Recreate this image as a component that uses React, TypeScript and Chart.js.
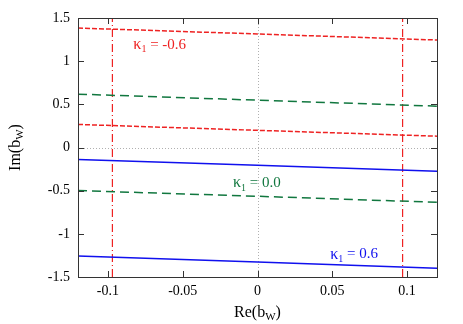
import React, { useEffect, useRef } from "react";
import { Chart, registerables } from "chart.js";

Chart.register(...registerables);

const xTicks = [-0.1, -0.05, 0, 0.05, 0.1];
const yTicks = [-1.5, -1, -0.5, 0, 0.5, 1, 1.5];
const xs = [-0.12, 0, 0.12];
const redTop = [1.384, 1.315, 1.245];
const redBottom = [0.267, 0.199, 0.131];
const greenTop = [0.618, 0.548, 0.479];
const greenBottom = [-0.499, -0.565, -0.635];
const blueTop = [-0.139, -0.207, -0.276];
const blueBottom = [-1.257, -1.327, -1.4];
const vLineX = [-0.097, 0.097];
const labels = [
  { text: "-0.6", x: -0.083, y: 1.19, color: "#ee2222" },
  { text: "0.0", x: -0.0164, y: -0.41, color: "#11773f" },
  { text: "0.6", x: 0.0486, y: -1.24, color: "#1010ee" },
];

const RED = "#ee2222";
const GREEN = "#11773f";
const BLUE = "#1010ee";
const FONT = "'Liberation Serif', 'DejaVu Serif', serif";

function pts(y: number[]) {
  return xs.map((x, i) => ({ x, y: y[i] }));
}

const deco = {
  id: "deco",
  beforeDatasetsDraw(chart: any) {
    const { ctx, chartArea: a, scales } = chart;
    const x0 = scales.x.getPixelForValue(0);
    const y0 = scales.y.getPixelForValue(0);
    ctx.save();
    ctx.strokeStyle = "#b0b0b0";
    ctx.lineWidth = 1;
    ctx.setLineDash([1, 2]);
    ctx.beginPath();
    ctx.moveTo(Math.round(x0) + 0.5, a.top);
    ctx.lineTo(Math.round(x0) + 0.5, a.bottom);
    ctx.moveTo(a.left, Math.round(y0) + 0.5);
    ctx.lineTo(a.right, Math.round(y0) + 0.5);
    ctx.stroke();
    ctx.restore();
  },
  afterDraw(chart: any) {
    const { ctx, chartArea: a, scales } = chart;
    ctx.save();
    ctx.strokeStyle = "#333";
    ctx.lineWidth = 1;
    ctx.setLineDash([]);
    ctx.strokeRect(Math.round(a.left) + 0.5, Math.round(a.top) + 0.5, Math.round(a.right - a.left), Math.round(a.bottom - a.top));
    ctx.beginPath();
    for (const v of xTicks) {
      const px = Math.round(scales.x.getPixelForValue(v)) + 0.5;
      ctx.moveTo(px, a.bottom);
      ctx.lineTo(px, a.bottom - 6);
      ctx.moveTo(px, a.top);
      ctx.lineTo(px, a.top + 6);
    }
    for (const v of yTicks) {
      const py = Math.round(scales.y.getPixelForValue(v)) + 0.5;
      ctx.moveTo(a.left, py);
      ctx.lineTo(a.left + 6, py);
      ctx.moveTo(a.right, py);
      ctx.lineTo(a.right - 6, py);
    }
    ctx.stroke();

    // labels
    for (const l of labels) {
      const px = scales.x.getPixelForValue(l.x);
      const py = scales.y.getPixelForValue(l.y);
      ctx.fillStyle = l.color;
      ctx.textBaseline = "middle";
      ctx.textAlign = "left";
      ctx.font = `16px ${FONT}`;
      ctx.fillText("κ", px, py);
      let w = ctx.measureText("κ").width;
      ctx.font = `10px ${FONT}`;
      ctx.fillText("1", px + w, py + 5);
      w += ctx.measureText("1").width;
      ctx.font = `15px ${FONT}`;
      ctx.fillText(" = " + l.text, px + w, py);
    }

    // axis titles
    ctx.fillStyle = "#000";
    ctx.textBaseline = "middle";
    const drawSub = (main: string, sub: string, cx: number, cy: number) => {
      ctx.font = `16px ${FONT}`;
      const w1 = ctx.measureText(main).width;
      ctx.font = `11px ${FONT}`;
      const w2 = ctx.measureText(sub).width;
      ctx.font = `16px ${FONT}`;
      const w3 = ctx.measureText(")").width;
      const total = w1 + w2 + w3;
      const sx = cx - total / 2;
      ctx.textAlign = "left";
      ctx.fillText(main, sx, cy);
      ctx.font = `11px ${FONT}`;
      ctx.fillText(sub, sx + w1, cy + 4);
      ctx.font = `16px ${FONT}`;
      ctx.fillText(")", sx + w1 + w2, cy);
    };
    drawSub("Re(b", "W", (a.left + a.right) / 2, 313);
    ctx.save();
    ctx.translate(16, (a.top + a.bottom) / 2);
    ctx.rotate(-Math.PI / 2);
    drawSub("Im(b", "W", 0, 0);
    ctx.restore();
    ctx.restore();
  },
};

export default function App() {
  const ref = useRef<HTMLCanvasElement>(null);
  useEffect(() => {
    const mk = (data: number[], color: string, dash: number[]) => ({
      data: pts(data),
      borderColor: color,
      borderWidth: 1.5,
      borderDash: dash,
      pointRadius: 0,
      fill: false,
    });
    const chart = new Chart(ref.current!, {
      type: "line",
      data: {
        datasets: [
          mk(redTop, RED, [5, 2]),
          mk(redBottom, RED, [5, 2]),
          mk(greenTop, GREEN, [9, 5]),
          mk(greenBottom, GREEN, [9, 5]),
          mk(blueTop, BLUE, []),
          mk(blueBottom, BLUE, []),
          ...vLineX.map((vx) => ({
            data: [
              { x: vx, y: -1.5 },
              { x: vx, y: 1.5 },
            ],
            borderColor: RED,
            borderWidth: 1.2,
            borderDash: [8, 3, 1, 3],
            pointRadius: 0,
            fill: false,
          })),
        ],
      },
      options: {
        animation: false,
        responsive: false,
        events: [],
        layout: { padding: { top: 18, right: 26, left: 0, bottom: 0 } },
        plugins: { legend: { display: false }, tooltip: { enabled: false } },
        scales: {
          x: {
            type: "linear",
            min: -0.12,
            max: 0.12,
            afterBuildTicks: (s: any) => {
              s.ticks = xTicks.map((v) => ({ value: v }));
            },
            afterFit: (s: any) => {
              s.height = 47;
            },
            grid: { display: false, drawTicks: false },
            border: { display: false },
            ticks: {
              padding: 6,
              color: "#000",
              font: { family: FONT, size: 14 },
              maxRotation: 0,
              callback: (v: any) => String(v),
            },
          },
          y: {
            type: "linear",
            min: -1.5,
            max: 1.5,
            afterBuildTicks: (s: any) => {
              s.ticks = yTicks.map((v) => ({ value: v }));
            },
            afterFit: (s: any) => {
              s.width = 78;
            },
            grid: { display: false, drawTicks: false },
            border: { display: false },
            ticks: {
              padding: 8,
              color: "#000",
              font: { family: FONT, size: 14 },
              callback: (v: any) => String(v),
            },
          },
        },
      },
      plugins: [deco],
    } as any);
    return () => chart.destroy();
  }, []);
  return (
    <div style={{ position: "fixed", left: 0, top: 0, width: 463, height: 324, background: "#fff" }}>
      <canvas ref={ref} width={463} height={324} />
    </div>
  );
}
